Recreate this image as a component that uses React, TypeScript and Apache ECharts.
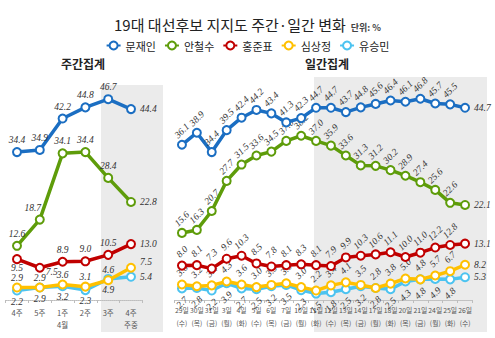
import React, { useEffect, useRef } from "react";
import * as echarts from "echarts";

const weekCats = ["4주", "5주", "1주", "2주", "3주", "4주"];
const weekSub = ["", "", "4월", "", "", "주중"];
const dayDates = ["29일", "30일", "31일", "3일", "4일", "5일", "6일", "7일", "10일", "11일", "12일", "13일", "14일", "17일", "18일", "20일", "21일", "24일", "25일", "26일"];
const dayWeekdays = ["수", "목", "금", "월", "화", "수", "목", "금", "월", "화", "수", "목", "금", "월", "화", "목", "금", "월", "화", "수"];

const names = ["문재인", "안철수", "홍준표", "심상정", "유승민"];
const colors = ["#1b6ec2", "#5e9c0a", "#c00000", "#ffc000", "#4cc3f0"];

const weekMoon = [34.4, 34.9, 42.2, 44.8, 46.7, 44.4];
const weekAhn = [12.6, 18.7, 34.1, 34.4, 28.4, 22.8];
const weekHong = [9.5, 7.5, 8.9, 9.0, 10.5, 13.0];
const weekSim = [2.9, 2.9, 3.6, 3.1, 4.6, 7.5];
const weekYoo = [2.2, 2.9, 3.2, 2.3, 4.9, 5.4];

const dayMoon = [36.1, 38.9, 34.4, 39.5, 42.4, 44.2, 43.4, 41.3, 42.3, 44.7, 44.7, 43.7, 44.8, 45.6, 46.4, 46.1, 46.8, 45.7, 45.5, 44.7];
const dayAhn = [15.6, 16.3, 20.7, 27.7, 31.5, 33.6, 34.5, 37.0, 38.2, 37.0, 35.9, 33.6, 31.3, 31.2, 30.2, 28.9, 27.4, 25.6, 22.6, 22.1];
const dayHong = [8.0, 8.1, 7.3, 9.6, 10.3, 8.5, 7.8, 8.1, 8.3, 8.1, 7.9, 9.9, 10.3, 10.6, 11.1, 10.0, 11.0, 12.2, 12.8, 13.1];
const daySim = [3.6, 3.2, 3.4, 4.3, 3.6, 3.0, 3.5, 3.9, 3.0, 2.2, 3.4, 4.1, 3.5, 2.8, 3.8, 5.0, 4.8, 5.7, 6.7, 8.2];
const dayYoo = [2.7, 2.8, 2.2, 3.9, 2.7, 2.5, 3.2, 3.5, 2.3, 1.5, 1.8, 2.5, 3.2, 2.8, 2.5, 4.3, 4.8, 4.9, 4.8, 5.3];

const FONT = '"Noto Sans CJK KR", "Noto Sans", sans-serif';
const NUMFONT = '"Liberation Serif", "DejaVu Serif", serif';

export default function App() {
  const ref = useRef<HTMLDivElement>(null);
  useEffect(() => {
    if (!ref.current) return;
    const chart = echarts.init(ref.current, undefined, { renderer: "svg" });

    const fmt = (p: any) => Number(p.value).toFixed(1);
    const baseLabel = {
      show: true,
      fontSize: 9.5,
      fontStyle: "italic",
      fontFamily: NUMFONT,
      color: "#333",
      formatter: fmt,
    };
    const lastLabel = (extra: any = {}) => ({
      position: "right",
      rotate: 0,
      align: "left",
      verticalAlign: "middle",
      distance: 4,
      ...extra,
    });

    const weekData = [weekMoon, weekAhn, weekHong, weekSim, weekYoo];
    const dayData = [dayMoon, dayAhn, dayHong, daySim, dayYoo];

    const weekLabelPos = (si: number, i: number, n: number): any => {
      if (i === n - 1) {
        if (si === 3) return lastLabel({ offset: [0, -6] });
        return lastLabel();
      }
      if (si === 4) return { position: "bottom", distance: 1 };
      if (si === 3) return { position: "top", distance: 0 };
      if (si === 2 && i === 0) return { position: "bottom", distance: -1 };
      if (si === 2 && i === 1) return { position: "bottom", distance: -1, offset: [12, -5] };
      if (si === 1 && i === 1) return { position: "top", offset: [-7, 0] };
      return { position: "top" };
    };

    const series: any[] = [];
    const order = [4, 3, 2, 1, 0];
    order.forEach((si) => {
      const common = {
        name: names[si],
        type: "line",
        symbol: "emptyCircle",
        symbolSize: 8,
        showAllSymbol: true,
        itemStyle: { color: colors[si], borderWidth: 3 },
        lineStyle: { color: colors[si], width: 3.5 },
        z: 2 + (4 - si),
      };
      const w = weekData[si];
      series.push({
        ...common,
        xAxisIndex: 0,
        yAxisIndex: 0,
        label: { ...baseLabel, distance: 2 },
        data: w.map((v, i) => ({ value: v, label: weekLabelPos(si, i, w.length) })),
      });
      const d = dayData[si];
      const below = si === 4;
      series.push({
        ...common,
        xAxisIndex: 1,
        yAxisIndex: 1,
        label: {
          ...baseLabel,
          position: below ? "bottom" : "top",
          rotate: 45,
          align: "center",
          verticalAlign: "middle",
          distance: 9,
        },
        data: d.map((v, i) =>
          i === d.length - 1 ? { value: v, label: lastLabel() } : v
        ),
      });
    });

    const axisCommon = {
      type: "category",
      boundaryGap: true,
      axisLine: { lineStyle: { color: "#bdbdbd", type: "dotted", width: 1 } },
      axisTick: { show: true, length: 3, lineStyle: { color: "#bdbdbd" } },
      splitLine: { show: false },
    };

    chart.setOption({
      animation: false,
      backgroundColor: "#ffffff",
      title: {
        left: "center",
        top: 10,
        text: "{a|19대 대선후보 지지도 주간·일간 변화} {b|단위: %}",
        textStyle: {
          rich: {
            a: { fontSize: 15, fontFamily: FONT, color: "#222", fontWeight: "normal" },
            b: { fontSize: 9, fontFamily: FONT, color: "#444", verticalAlign: "bottom", padding: [0, 0, 1, 0] },
          },
        },
      },
      legend: {
        top: 35,
        left: "center",
        itemWidth: 14,
        itemHeight: 10,
        itemGap: 8,
        data: names,
        textStyle: { fontSize: 11, fontFamily: FONT, color: "#222" },
      },
      grid: [
        { left: 5.6, top: 85, width: 136.8, height: 215 },
        { left: 174.5, top: 85, width: 298, height: 215 },
      ],
      xAxis: [
        {
          ...axisCommon,
          gridIndex: 0,
          data: weekCats.map((c, i) => (weekSub[i] ? c + "\n" + weekSub[i] : c)),
          axisLabel: { interval: 0, fontSize: 7.5, color: "#555", lineHeight: 12, margin: 6, fontFamily: FONT },
        },
        {
          ...axisCommon,
          gridIndex: 1,
          data: dayDates.map((c, i) => c + "\n(" + dayWeekdays[i] + ")"),
          axisLabel: { interval: 0, fontSize: 6.8, color: "#555", lineHeight: 13, margin: 3, fontFamily: FONT },
        },
      ],
      yAxis: [
        { gridIndex: 0, type: "value", min: 0, max: 50, show: false },
        { gridIndex: 1, type: "value", min: 0, max: 50, show: false },
      ],
      graphic: [
        { type: "rect", z: -10, silent: true, shape: { x: 101, y: 85, width: 62, height: 247 }, style: { fill: "#ebebeb" } },
        { type: "rect", z: -10, silent: true, shape: { x: 314, y: 77, width: 173, height: 255 }, style: { fill: "#ebebeb" } },
        { type: "text", x: 83, y: 63, silent: true, style: { text: "주간집계", fontSize: 12, fontWeight: "bold", fontFamily: FONT, fill: "#222", align: "center", verticalAlign: "middle" } },
        { type: "text", x: 327, y: 63, silent: true, style: { text: "일간집계", fontSize: 12, fontWeight: "bold", fontFamily: FONT, fill: "#222", align: "center", verticalAlign: "middle" } },
      ],
      series,
    });
    return () => chart.dispose();
  }, []);
  return (
    <div
      ref={ref}
      style={{ position: "fixed", left: 0, top: 0, width: 495, height: 338, background: "#fff" }}
    />
  );
}
